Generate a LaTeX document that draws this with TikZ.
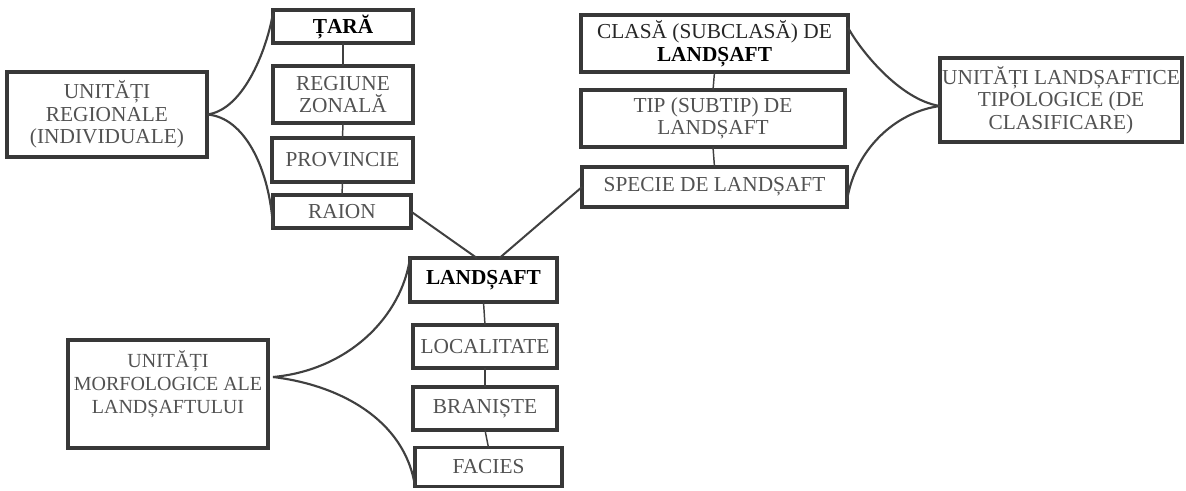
\documentclass[tikz,border=0pt]{standalone}
\usepackage{fontspec}
\setmainfont{Liberation Serif}
\begin{document}
\begin{tikzpicture}[x=0.75pt,y=-0.75pt,
  box/.style={draw=black!78, line width=2.4pt, inner sep=0pt, outer sep=0pt, align=center,
              text=black!68, font=\fontsize{16}{17}\selectfont},
  txt/.style={inner sep=0pt, align=center, text=black!68, font=\fontsize{15}{17}\selectfont},
  link/.style={draw=black!75, line width=1.1pt},
  brace/.style={draw=black!75, line width=1.6pt},
  diag/.style={draw=black!75, line width=1.5pt}]
\useasboundingbox (0,0) rectangle (1186,490);

% regional (individual) units
\node[box, minimum width=150pt, minimum height=63.75pt] (reg) at (107,114.5) {UNITĂȚI\\REGIONALE\\(INDIVIDUALE)};
\node[box, minimum width=105pt, minimum height=24.75pt] (tara) at (343,26.5) {{\color{black}\bfseries ȚARĂ}};
\node[box, minimum width=105pt, minimum height=42.75pt] (regz) at (343,94.5) {REGIUNE\\ZONALĂ};
\node[box, minimum width=105.75pt, minimum height=33pt] (prov) at (342.5,160) {PROVINCIE};
\node[box, minimum width=103.5pt, minimum height=24.75pt] (raion) at (342,211.5) {RAION};

% typological units
\node[box, minimum width=200.25pt, minimum height=42.75pt] (clasa) at (714.5,43.5) {{\color{black!85}CLASĂ (SUBCLASĂ) DE}\\{\color{black}\bfseries LANDȘAFT}};
\node[box, minimum width=198pt, minimum height=42.75pt] (tip) at (713,118.5) {TIP (SUBTIP) DE\\LANDȘAFT};
\node[box, minimum width=198.75pt, minimum height=30pt] (specie) at (714.5,187) {SPECIE DE LANDȘAFT};
\node[box, minimum width=181.5pt, minimum height=63pt] (tipol) at (1061,100) {UNITĂȚI LANDȘAFTICE\\TIPOLOGICE (DE\\CLASIFICARE)};

% morphological units
\node[box, minimum width=110.25pt, minimum height=33pt] (lands) at (483.5,280) {{\color{black}\bfseries LANDȘAFT}};
\node[box, minimum width=108pt, minimum height=32.25pt] (loc) at (485,346.5) {LOCALITATE};
\node[box, minimum width=108pt, minimum height=32.25pt] (bran) at (485,408.5) {BRANIȘTE};
\node[box, minimum width=110.25pt, minimum height=29pt] (facies) at (488.5,467) {FACIES};
\node[box, minimum width=150pt, minimum height=81pt] (morf) at (168,394) {};
\node[txt] (morft) at (168,384) {UNITĂȚI\\MORFOLOGICE ALE\\LANDȘAFTULUI};

% vertical links
\draw[link] (tara.south) -- (regz.north);
\draw[link] (regz.south) -- (prov.north);
\draw[link] (prov.south) -- (raion.north);
\draw[link] (clasa.south) -- (tip.north);
\draw[link] (tip.south) -- (specie.north);
\draw[link] (lands.south) -- (loc.north);
\draw[link] (loc.south) -- (bran.north);
\draw[link] (bran.south) -- (facies.north);

% diagonal links to LANDSAFT
\draw[diag] (raion.east) -- ([xshift=-5pt]lands.north);
\draw[diag] (specie.west) -- ([xshift=12pt]lands.north);

% braces
\draw[brace] (reg.east) .. controls (245,110) and (268,45) .. ([yshift=-2pt]tara.north west);
\draw[brace] (reg.east) .. controls (245,117) and (270,170) .. (raion.south west);

\draw[brace] ([yshift=-4.5pt]tipol.west) .. controls (900,100) and (860,50) .. ([yshift=12pt]clasa.east);
\draw[brace] ([yshift=-4.5pt]tipol.west) .. controls (895,112) and (855,150) .. ([yshift=-10pt]specie.east);

\draw[brace] ([xshift=3.75pt,yshift=12.75pt]morf.east) .. controls (350,370) and (402,315) .. (lands.north west);
\draw[brace] ([xshift=3.75pt,yshift=12.75pt]morf.east) .. controls (340,385) and (405,420) .. (facies.south west);
\end{tikzpicture}
\end{document}
